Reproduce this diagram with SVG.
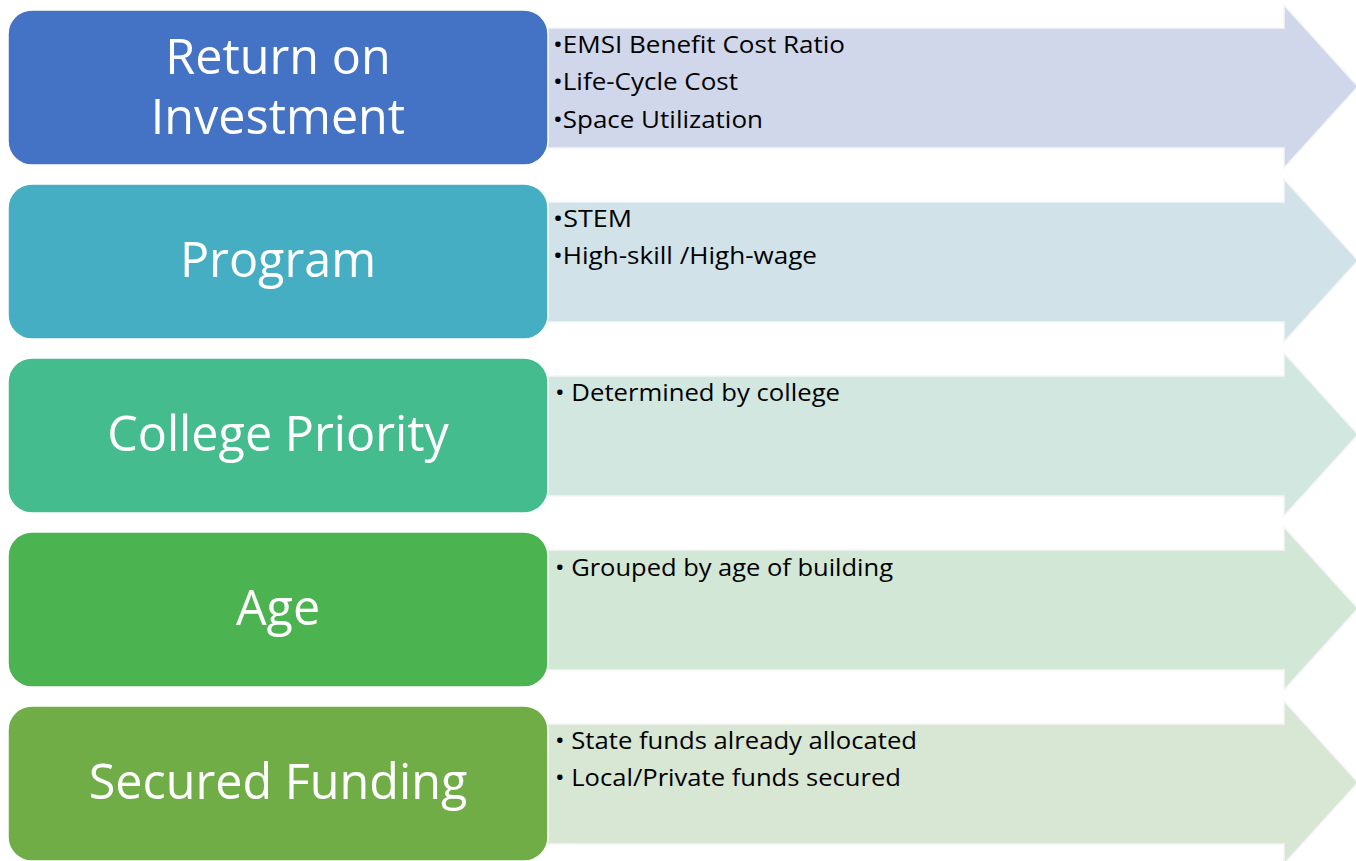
<svg xmlns="http://www.w3.org/2000/svg" width="1356" height="861" viewBox="0 0 1356 861">
<style>
.box{stroke:#ffffff;stroke-width:1.5}
.arr{stroke:#f4f6f8;stroke-width:1.5}
.lbl{font-family:"Open Sans","Noto Sans",sans-serif;font-size:48.5px;fill:#ffffff;text-anchor:middle}
.bul{font-family:"Open Sans","Noto Sans",sans-serif;font-size:24px;fill:#000000}
</style>
<rect width="1356" height="861" fill="#ffffff"/>
<g id="connectors">
<path class="arr" fill="#d1d7ea" d="M540,28 H1284 V5 L1358,86.5 L1284,168 V148 H540 Z"/>
<path class="arr" fill="#d1e3e9" d="M540,202 H1284 V179 L1358,260.5 L1284,342 V322 H540 Z"/>
<path class="arr" fill="#d2e7e0" d="M540,376 H1284 V353 L1358,434.5 L1284,516 V496 H540 Z"/>
<path class="arr" fill="#d3e7d7" d="M540,550 H1284 V527 L1358,608.5 L1284,690 V670 H540 Z"/>
<path class="arr" fill="#d8e6d4" d="M540,724 H1284 V701 L1358,782.5 L1284,864 V844 H540 Z"/>
</g>
<g id="node-roi">
<rect class="box" x="8" y="10" width="540" height="155" rx="24" fill="#4472c4"/>
<text class="lbl" x="278" y="74">Return on</text>
<text class="lbl" x="278" y="134">Investment</text>
<text class="bul" x="553" y="53" textLength="292" lengthAdjust="spacingAndGlyphs">•EMSI Benefit Cost Ratio</text>
<text class="bul" x="553" y="90" textLength="185" lengthAdjust="spacingAndGlyphs">•Life-Cycle Cost</text>
<text class="bul" x="553" y="128" textLength="210" lengthAdjust="spacingAndGlyphs">•Space Utilization</text>
</g>
<g id="node-program">
<rect class="box" x="8" y="184" width="540" height="155" rx="24" fill="#45aec3"/>
<text class="lbl" x="278" y="277">Program</text>
<text class="bul" x="553" y="227" textLength="79" lengthAdjust="spacingAndGlyphs">•STEM</text>
<text class="bul" x="553" y="264" textLength="264" lengthAdjust="spacingAndGlyphs">•High-skill /High-wage</text>
</g>
<g id="node-college">
<rect class="box" x="8" y="358" width="540" height="155" rx="24" fill="#45bc8e"/>
<text class="lbl" x="278" y="451">College Priority</text>
<text class="bul" x="555" y="401" textLength="285" lengthAdjust="spacingAndGlyphs">• Determined by college</text>
</g>
<g id="node-age">
<rect class="box" x="8" y="532" width="540" height="155" rx="24" fill="#4bb350"/>
<text class="lbl" x="278" y="625">Age</text>
<text class="bul" x="555" y="576" textLength="338" lengthAdjust="spacingAndGlyphs">• Grouped by age of building</text>
</g>
<g id="node-funding">
<rect class="box" x="8" y="706" width="540" height="155" rx="24" fill="#70ad47"/>
<text class="lbl" x="278" y="799">Secured Funding</text>
<text class="bul" x="555" y="749" textLength="362" lengthAdjust="spacingAndGlyphs">• State funds already allocated</text>
<text class="bul" x="555" y="786" textLength="346" lengthAdjust="spacingAndGlyphs">• Local/Private funds secured</text>
</g>
</svg>
